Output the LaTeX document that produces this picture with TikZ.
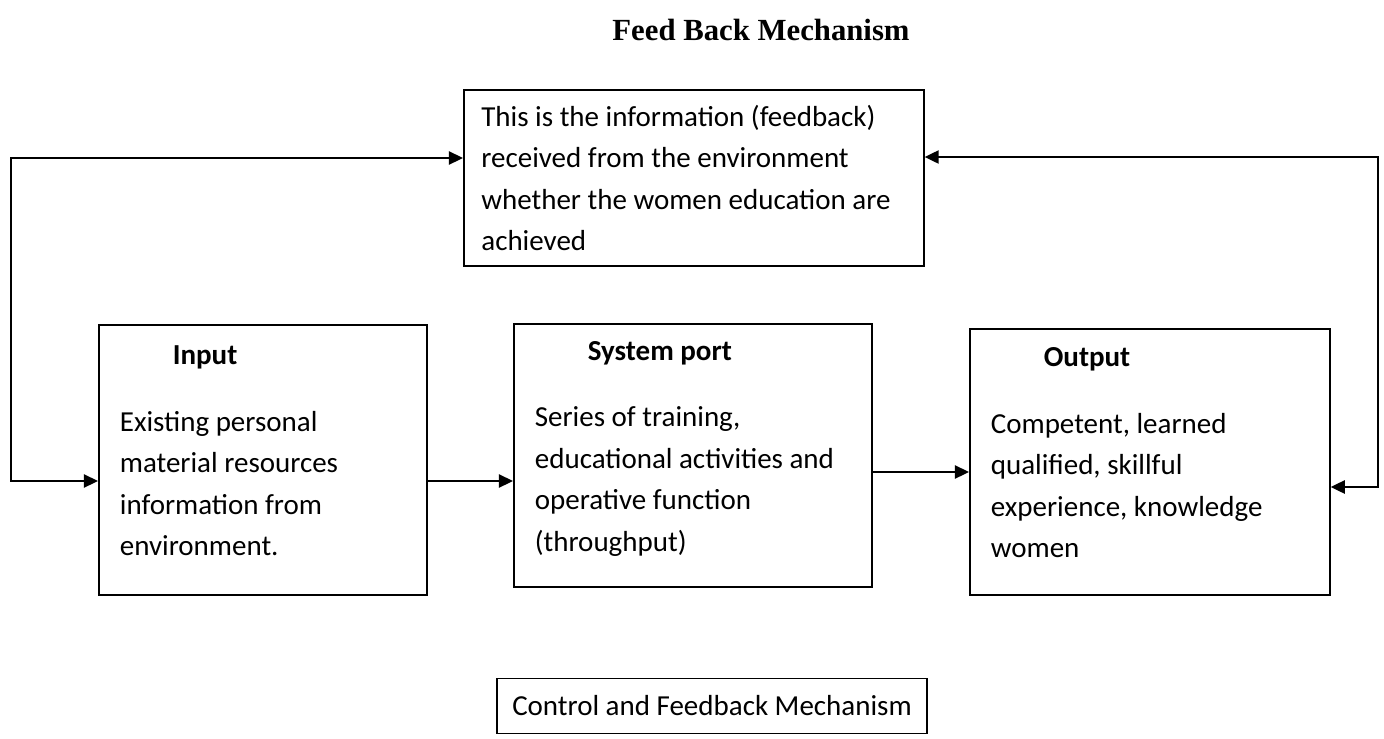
\documentclass[tikz,border=0pt]{standalone}
\usepackage{fontspec}
\setmainfont{Carlito}
\newfontfamily\titlefont{Liberation Serif}
\usetikzlibrary{arrows.meta,positioning}

\begin{document}
\begin{tikzpicture}[x=0.02cm,y=-0.02cm,
  blk/.style={draw,line width=1pt,anchor=north west,align=flush left,inner xsep=0.42cm,
              font=\fontsize{16.5}{23.6}\selectfont},
  link/.style={line width=1pt,-{Triangle[length=8pt,width=7.5pt]}},
  dlink/.style={line width=1pt,{Triangle[length=8pt,width=7.5pt]}-{Triangle[length=8pt,width=7.5pt]}},
]
\useasboundingbox (0,0) rectangle (1384,738);

\node[font=\titlefont\bfseries\fontsize{17.5}{20}\selectfont] (title) at (761,30) {Feed Back Mechanism};

\node[blk,text width=8.5cm,inner xsep=0.35cm,minimum height=3.52cm] (fb) at (463,89)
  {This is the information (feedback)\\received from the environment\\whether the women education are\\achieved};

% boxes of the system (last empty line lifts the text a little)
\node[blk,text width=5.72cm,minimum height=5.4cm] (input) at (98,324)
  {\hspace*{1.06cm}\textbf{Input}\\[0.5cm]Existing personal\\material resources\\information from\\environment.\\[-0.47cm]\mbox{}};
\node[blk,text width=6.32cm,minimum height=5.26cm] (system) at (513,323)
  {\hspace*{1.06cm}\textbf{System port}\\[0.5cm]Series of training,\\educational activities and\\operative function\\(throughput)\\[-0.47cm]\mbox{}};
\node[blk,text width=6.36cm,minimum height=5.32cm] (output) at (969,328)
  {\hspace*{1.06cm}\textbf{Output}\\[0.5cm]Competent, learned\\qualified, skillful\\experience, knowledge\\women\\[-0.47cm]\mbox{}};

\node[draw,line width=1pt,inner xsep=0.3cm,minimum height=1.1cm,
      font=\fontsize{16.5}{20}\selectfont] (ctrl) at (712,706) {Control and Feedback Mechanism};

% feedback loops
\coordinate (lt) at (11,158);
\coordinate (lb) at (11,481);
\coordinate (rt) at (1378,157);
\coordinate (rb) at (1378,487);
\coordinate (mo) at (920,472);
\draw[dlink] (fb.west |- lt) -- (lt) -- (lb) -- (input.west |- lb);
\draw[dlink] (fb.east |- rt) -- (rt) -- (rb) -- (output.east |- rb);

\draw[link] (input.east |- lb) -- (system.west |- lb);
\draw[link] (system.east |- mo) -- (output.west |- mo);
\end{tikzpicture}
\end{document}
